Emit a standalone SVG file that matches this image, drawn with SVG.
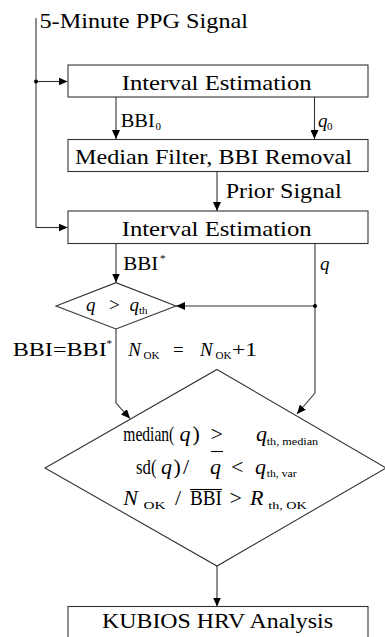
<svg xmlns="http://www.w3.org/2000/svg" width="385" height="637" viewBox="0 0 385 637">
<style>
text{font-family:"Liberation Serif","Times New Roman",serif;fill:#000;font-size:22px}
.it{font-style:italic}
.sub{font-size:11px}
.sm{font-size:19px}
.ln{fill:none;stroke:#333;stroke-width:1.1}
.box{fill:#fff;stroke:#333;stroke-width:1.1}
.dot{fill:#000}
</style>
<defs>
<marker id="ah" markerUnits="userSpaceOnUse" markerWidth="10" markerHeight="8" refX="9" refY="4" orient="auto">
<path d="M0,0 L9,4 L0,8 z" fill="#000"/>
</marker>
</defs>
<rect width="385" height="637" fill="#fff"/>

<g id="connectors">
<line class="ln" x1="36" y1="18" x2="36" y2="227.5"/>
<line class="ln" x1="36" y1="81.5" x2="67.5" y2="81.5" marker-end="url(#ah)"/>
<line class="ln" x1="36" y1="227.5" x2="67.5" y2="227.5" marker-end="url(#ah)"/>
<circle class="dot" cx="36" cy="81.5" r="2"/>
<line class="ln" x1="116" y1="97" x2="116" y2="139" marker-end="url(#ah)"/>
<line class="ln" x1="314.5" y1="97" x2="314.5" y2="139" marker-end="url(#ah)"/>
<line class="ln" x1="217" y1="172" x2="217" y2="211" marker-end="url(#ah)"/>
<line class="ln" x1="116" y1="243.5" x2="116" y2="282.5" marker-end="url(#ah)"/>
<line class="ln" x1="315" y1="243.5" x2="315" y2="393"/>
<line class="ln" x1="315" y1="306" x2="176" y2="306" marker-end="url(#ah)"/>
<circle class="dot" cx="315" cy="306" r="2"/>
<polyline class="ln" points="116,329 116,403 130,418.5" marker-end="url(#ah)"/>
<polyline class="ln" points="315,393 297,414" marker-end="url(#ah)"/>
<line class="ln" x1="217" y1="566" x2="217" y2="606.5" marker-end="url(#ah)"/>
</g>

<g id="input">
<text x="39.5" y="27.5" textLength="208.5" lengthAdjust="spacingAndGlyphs">5-Minute PPG Signal</text>
</g>

<g id="interval1">
<rect class="box" x="68" y="65" width="300" height="32"/>
<text x="121.7" y="90" textLength="190" lengthAdjust="spacingAndGlyphs">Interval Estimation</text>
</g>

<g id="labels1">
<text class="sm" x="120.7" y="127" textLength="34" lengthAdjust="spacingAndGlyphs">BBI</text>
<text class="sub" x="155.5" y="129.5">0</text>
<text class="sm it" x="318" y="127">q</text>
<text class="sub" x="327" y="129.5">0</text>
</g>

<g id="median">
<rect class="box" x="68" y="139.5" width="300" height="32"/>
<text x="75" y="163.5" textLength="277" lengthAdjust="spacingAndGlyphs">Median Filter, BBI Removal</text>
</g>

<g id="prior-label">
<text x="225.7" y="198" textLength="116" lengthAdjust="spacingAndGlyphs">Prior Signal</text>
</g>

<g id="interval2">
<rect class="box" x="68" y="211" width="300" height="32.5"/>
<text x="121.7" y="236" textLength="190" lengthAdjust="spacingAndGlyphs">Interval Estimation</text>
</g>

<g id="labels2">
<text class="sm" x="123.3" y="270" textLength="35" lengthAdjust="spacingAndGlyphs">BBI</text>
<text class="sub" x="160" y="262">*</text>
<text class="sm it" x="320" y="270">q</text>
</g>

<g id="decision1">
<polygon class="box" points="56,306 116,282.7 176,306 116,329"/>
<text class="sm it" x="86" y="311">q</text>
<text class="sm" x="109" y="311">&gt;</text>
<text class="sm it" x="129.5" y="311">q</text>
<text class="sub" x="139" y="314">th</text>
</g>

<g id="labels3">
<text class="sm" x="12.7" y="355.5" textLength="94" lengthAdjust="spacingAndGlyphs">BBI=BBI</text>
<text class="sub" x="106.5" y="347">*</text>
<text class="sm it" x="128.3" y="355.5">N</text>
<text class="sub" x="143.5" y="358.5" textLength="16" lengthAdjust="spacingAndGlyphs">OK</text>
<text class="sm" x="173" y="355.5">=</text>
<text class="sm it" x="200" y="355.5">N</text>
<text class="sub" x="215.5" y="358.5" textLength="16" lengthAdjust="spacingAndGlyphs">OK</text>
<text class="sm" x="232" y="355.5" textLength="25" lengthAdjust="spacingAndGlyphs">+1</text>
</g>

<g id="decision2">
<polygon class="box" points="217,369.5 386,468 217,566 45,468"/>
<text x="123.3" y="441" textLength="51" lengthAdjust="spacingAndGlyphs">median(</text>
<text class="it" x="179.5" y="441">q</text>
<text x="192.5" y="441">)</text>
<text x="210.5" y="441">&gt;</text>
<text class="it" x="256" y="441">q</text>
<text class="sub" x="266.7" y="445" textLength="51.5" lengthAdjust="spacingAndGlyphs">th, median</text>

<text x="136" y="473.5" textLength="20.5" lengthAdjust="spacingAndGlyphs">sd(</text>
<text class="it" x="161" y="473.5">q</text>
<text x="173.5" y="473.5">)</text>
<text x="183" y="473.5">/</text>
<text class="it" x="210" y="473.5">q</text>
<line x1="211" y1="451.5" x2="223" y2="451.5" stroke="#000" stroke-width="1.1"/>
<text x="231" y="473.5">&lt;</text>
<text class="it" x="255" y="473.5">q</text>
<text class="sub" x="266.7" y="477" textLength="30" lengthAdjust="spacingAndGlyphs">th, var</text>

<text class="it" x="123.3" y="505">N</text>
<text class="sub" x="143.5" y="508.5" textLength="22" lengthAdjust="spacingAndGlyphs">OK</text>
<text x="175" y="505">/</text>
<text x="190" y="505" textLength="32" lengthAdjust="spacingAndGlyphs">BBI</text>
<line x1="190" y1="489.5" x2="222" y2="489.5" stroke="#000" stroke-width="1.1"/>
<text x="229.5" y="505">&gt;</text>
<text class="it" x="250" y="505">R</text>
<text class="sub" x="268.3" y="508.5" textLength="38.5" lengthAdjust="spacingAndGlyphs">th, OK</text>
</g>

<g id="kubios">
<rect class="box" x="68" y="606.5" width="300" height="40"/>
<text x="102" y="628.3" textLength="231" lengthAdjust="spacingAndGlyphs">KUBIOS HRV Analysis</text>
</g>
</svg>
